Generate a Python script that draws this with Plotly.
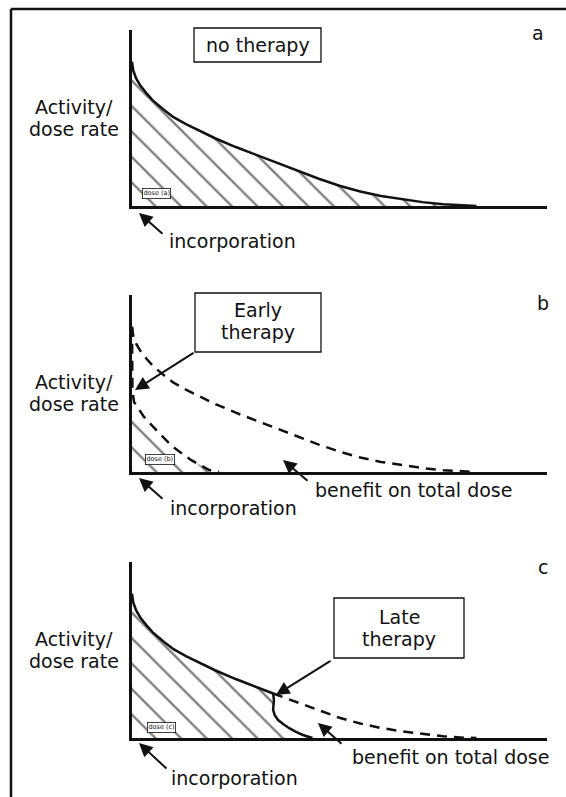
import plotly.graph_objects as go

W, H = 566, 797

# Activity / dose rate after incorporation, no therapy (arbitrary units)
time = [0, 0.03, 0.1, 0.2, 0.35, 0.5, 0.75, 1.0, 1.3, 1.6, 2.0, 2.5, 3.0, 3.4,
        3.7, 4.0, 4.5, 5.0, 5.5, 6.0, 6.5, 7.0, 7.5, 8.0, 8.3]
activity = [8.2, 7.7, 7.25, 6.85, 6.4, 6.0, 5.5, 5.05, 4.65, 4.3, 3.85, 3.35, 2.9, 2.53,
            2.27, 2.0, 1.55, 1.15, 0.82, 0.57, 0.38, 0.22, 0.1, 0.02, 0]

# Early therapy: activity drops right after incorporation
early_time = [0, 0.01, 0.05, 0.29, 0.65, 0.99, 1.42, 1.86, 2.1]
early_activity = [8.2, 4.6, 3.95, 3.11, 2.2, 1.41, 0.68, 0.11, 0]

# Late therapy: starts at late_start, then activity falls off quickly
late_start = 3.4
late_time = [3.4, 3.42, 3.41, 3.40, 3.44, 3.52, 3.65, 3.78, 3.95, 4.12, 4.35]
late_activity = [2.53, 2.15, 1.85, 1.6, 1.3, 1.02, 0.78, 0.57, 0.35, 0.17, 0]

FONT = "DejaVu Sans"
INK = "#111111"
FS = 19

# plot area of each panel, in page pixels (left, right, top, bottom)
X0, X1 = 132, 547
PANELS = {"a": (30, 206), "b": (295, 472), "c": (562, 738)}


def px(x, y):
    return x / W, 1 - y / H


hatch = dict(shape="\\", size=18, solidity=0.13, fgcolor="#000000", bgcolor="white")

fig = go.Figure()

# --- panel a: no therapy ---
fig.add_trace(go.Scatter(x=time, y=activity, mode="lines", fill="tozeroy",
                         fillcolor="rgba(0,0,0,0)", fillpattern=hatch,
                         line=dict(color=INK, width=2.5), xaxis="x", yaxis="y"))

# --- panel b: early therapy ---
fig.add_trace(go.Scatter(x=early_time, y=early_activity, mode="lines", fill="tozeroy",
                         fillcolor="rgba(0,0,0,0)", fillpattern=hatch,
                         line=dict(color=INK, width=2.5, dash="10px,7px"),
                         xaxis="x2", yaxis="y2"))
fig.add_trace(go.Scatter(x=time, y=activity, mode="lines",
                         line=dict(color=INK, width=2.5, dash="10px,7px"),
                         xaxis="x2", yaxis="y2"))

# --- panel c: late therapy ---
k = time.index(late_start)
solid_t = time[:k + 1] + late_time[1:]
solid_a = activity[:k + 1] + late_activity[1:]
fig.add_trace(go.Scatter(x=solid_t + [0], y=solid_a + [0], mode="lines", fill="toself",
                         fillcolor="rgba(0,0,0,0)", fillpattern=hatch,
                         line=dict(width=0), xaxis="x3", yaxis="y3"))
fig.add_trace(go.Scatter(x=solid_t, y=solid_a, mode="lines",
                         line=dict(color=INK, width=2.5), xaxis="x3", yaxis="y3"))
fig.add_trace(go.Scatter(x=time[k:], y=activity[k:], mode="lines",
                         line=dict(color=INK, width=2.5, dash="10px,7px"),
                         xaxis="x3", yaxis="y3"))

axis_style = dict(range=[0, 10], showgrid=False, zeroline=False, showticklabels=False,
                  ticks="", showline=True, linecolor=INK, linewidth=2.6, fixedrange=True)

layout_axes = {}
for i, (name, (top, bottom)) in enumerate(PANELS.items()):
    sfx = "" if i == 0 else str(i + 1)
    layout_axes["xaxis" + sfx] = dict(axis_style, domain=[X0 / W, X1 / W],
                                      anchor="y" + sfx)
    layout_axes["yaxis" + sfx] = dict(axis_style, domain=[1 - bottom / H, 1 - top / H],
                                      anchor="x" + sfx)

annotations = []
shapes = []


def label(text, x, y, size=FS, **kw):
    xp, yp = px(x, y)
    annotations.append(dict(text=text, x=xp, y=yp, xref="paper", yref="paper",
                            showarrow=False, font=dict(family=FONT, size=size, color=INK),
                            xanchor="center", yanchor="middle", **kw))


def arrow(tip, tail):
    xp, yp = px(*tip)
    annotations.append(dict(text="", x=xp, y=yp, xref="paper", yref="paper",
                            ax=tail[0] - tip[0], ay=tail[1] - tip[1], axref="pixel",
                            ayref="pixel", showarrow=True, arrowhead=2, arrowsize=1.35,
                            arrowwidth=2, arrowcolor=INK, standoff=0, startstandoff=0))


def box(x0, y0, x1, y1):
    a, b = px(x0, y0)
    c, d = px(x1, y1)
    shapes.append(dict(type="rect", xref="paper", yref="paper", x0=a, y0=d, x1=c, y1=b,
                       line=dict(color=INK, width=1.3), fillcolor="white"))


def tiny(text, x, y):
    label(text, x, y, size=6.5, bordercolor=INK, borderwidth=0.8, borderpad=0.6,
          bgcolor="white")


def ylabel(y_mid):
    label("Activity/", 74, y_mid - 11)
    label("dose rate", 74, y_mid + 11)


# outer frame (left and top edges)
for x0, y0, x1, y1 in [(11, 9, 11, 797), (11, 9, 566, 9)]:
    a, b = px(x0, y0)
    c, d = px(x1, y1)
    shapes.append(dict(type="line", xref="paper", yref="paper", x0=a, y0=b, x1=c, y1=d,
                       line=dict(color=INK, width=2.5)))

# panel a
box(194, 28, 321, 62)
label("no therapy", 258, 45)
label("a", 538, 33)
ylabel(118)
label("incorporation", 232, 241)
arrow((139, 213), (164, 235))
tiny("dose (a)", 157, 194)

# panel b
box(195, 293, 321, 352)
label("Early", 258, 310)
label("therapy", 258, 332)
label("b", 543, 303)
ylabel(393)
label("incorporation", 233, 508)
arrow((139, 478), (164, 500))
arrow((135, 390), (195, 352))
label("benefit on total dose", 413, 490)
arrow((283, 460), (309, 482))
tiny("dose (b)", 160, 459)

# panel c
box(334, 598, 464, 658)
label("Late", 399, 617)
label("therapy", 399, 639)
label("c", 543, 567)
ylabel(650)
label("incorporation", 234, 778)
arrow((139, 743), (168, 770))
arrow((276, 695), (332, 660))
label("benefit on total dose", 450, 757)
arrow((318, 723), (343, 745))
tiny("dose (c)", 161, 727)

fig.update_layout(width=W, height=H, margin=dict(l=0, r=0, t=0, b=0),
                  paper_bgcolor="white", plot_bgcolor="rgba(0,0,0,0)",
                  showlegend=False, hovermode=False,
                  annotations=annotations, shapes=shapes, **layout_axes)

fig.write_html("out.html")
